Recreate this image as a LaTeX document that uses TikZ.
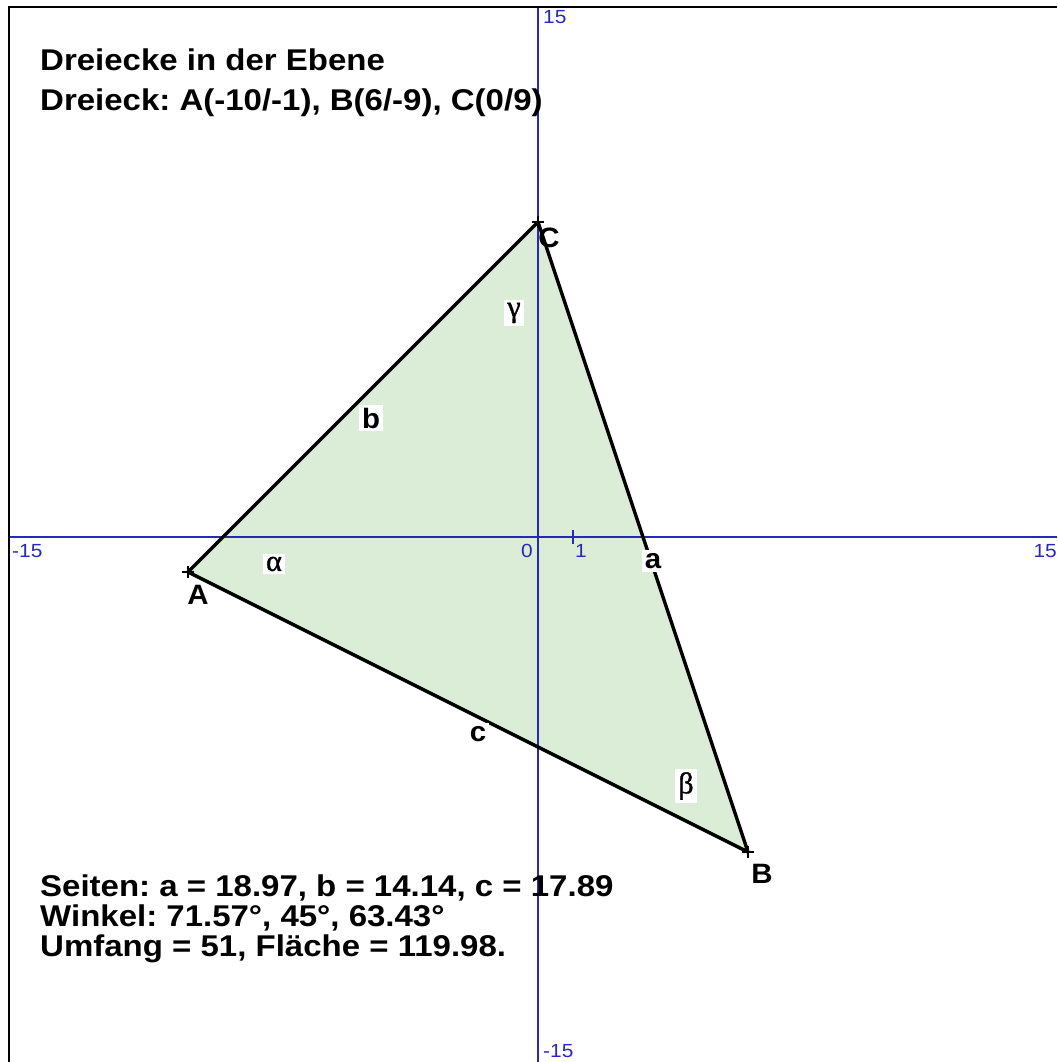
\documentclass[tikz,border=0pt]{standalone}
\usepackage{fontspec}
\setmainfont{Liberation Sans}
\newfontfamily\wide[FakeStretch=1.1]{Liberation Sans Bold}
\newfontfamily\lblfont[FakeStretch=1.05]{Liberation Sans Bold}
\newfontfamily\widereg[FakeStretch=1.1]{Liberation Sans}
\newfontfamily\grk[FakeBold=1.2]{Liberation Serif}
\usetikzlibrary{calc}
\definecolor{axisblue}{RGB}{40,40,185}
\definecolor{trifill}{RGB}{220,237,215}
\tikzset{
  axisline/.style={draw=axisblue, line width=1.6pt},
  axislbl/.style={text=axisblue, font=\widereg\fontsize{19}{22}\selectfont, inner sep=0pt},
  edge/.style={draw=black, line width=3.4pt},
  vtx/.style={font=\lblfont\fontsize{28}{32}\selectfont, inner sep=0pt},
  sidelbl/.style={fill=white, font=\lblfont\fontsize{28}{32}\selectfont, inner sep=3pt},
  anglbl/.style={fill=white, font=\grk\fontsize{30}{34}\selectfont, inner sep=3pt},
  infotext/.style={font=\wide\fontsize{30}{34}\selectfont, inner sep=0pt, anchor=base west},
  frameline/.style={draw=black, line width=2.2pt},
  vmark/.style={draw=black, line width=2pt}
}
\begin{document}
\frenchspacing
\begin{tikzpicture}[x=1pt,y=-1pt]
\useasboundingbox (0,0) rectangle (1057,1062);
\fill[white] (0,0) rectangle (1057,1062);
% points
\coordinate (O) at (538,537);
\coordinate (A) at (188,572);
\coordinate (B) at (748,852);
\coordinate (C) at (538,222);
\coordinate (xl) at (9,537);
\coordinate (xr) at (1057,537);
\coordinate (yt) at (538,7);
\coordinate (yb) at (538,1062);
\coordinate (t1a) at (573,530);
\coordinate (t1b) at (573,544);
% triangle fill
\fill[trifill] (A) -- (B) -- (C) -- cycle;
% axes
\draw[axisline] (xl) -- (xr);
\draw[axisline] (yt) -- (yb);
\draw[axisline, line width=1.4pt] (t1a) -- (t1b);
% frame
\draw[frameline] (9,1062) -- (9,7) -- (1057,7);
% triangle edges
\draw[edge, line join=round] (A) -- (B) -- (C) -- cycle;
% vertex marks
\foreach \p in {A,B,C}{
  \draw[vmark] ($(\p)+(-6,0)$) -- ($(\p)+(6,0)$);
  \draw[vmark] ($(\p)+(0,-6)$) -- ($(\p)+(0,6)$);
}
% axis labels
\node[axislbl, anchor=north west] (xmin) at (12,544) {-15};
\node[axislbl, anchor=north east] (xmax) at (1057,544) {15};
\node[axislbl, anchor=north west] (ymax) at (543,10) {15};
\node[axislbl, anchor=south west] (ymin) at (543,1058) {-15};
\node[axislbl, anchor=north east] (zero) at (533,544) {0};
\node[axislbl, anchor=north west] (one) at (575,544) {1};
% vertex labels
\node[vtx] (lA) at (198,595) {A};
\node[vtx] (lB) at (762,874) {B};
\node[vtx] (lC) at (549,238) {C};
% side labels
\node[sidelbl] (la) at (653,561) {a};
\node[sidelbl] (lb) at (371,418) {b};
\node[sidelbl] (lc) at (478,734) {c};
% angle labels
\node[anglbl] (alpha) at (274,564) {α};
\node[anglbl] (beta) at (686,786) {β};
\node[anglbl] (gamma) at (514,313) {γ};
% texts
\node[infotext] (title1) at (40,71) {Dreiecke in der Ebene};
\node[infotext] (title2) at (40,111) {Dreieck: A(-10/-1), B(6/-9), C(0/9)};
\node[infotext] (info1) at (40,896) {Seiten: a = 18.97, b = 14.14, c = 17.89};
\node[infotext] (info2) at (40,926) {Winkel: 71.57°, 45°, 63.43°};
\node[infotext] (info3) at (40,956) {Umfang = 51, Fläche = 119.98.};
\end{tikzpicture}
\end{document}
